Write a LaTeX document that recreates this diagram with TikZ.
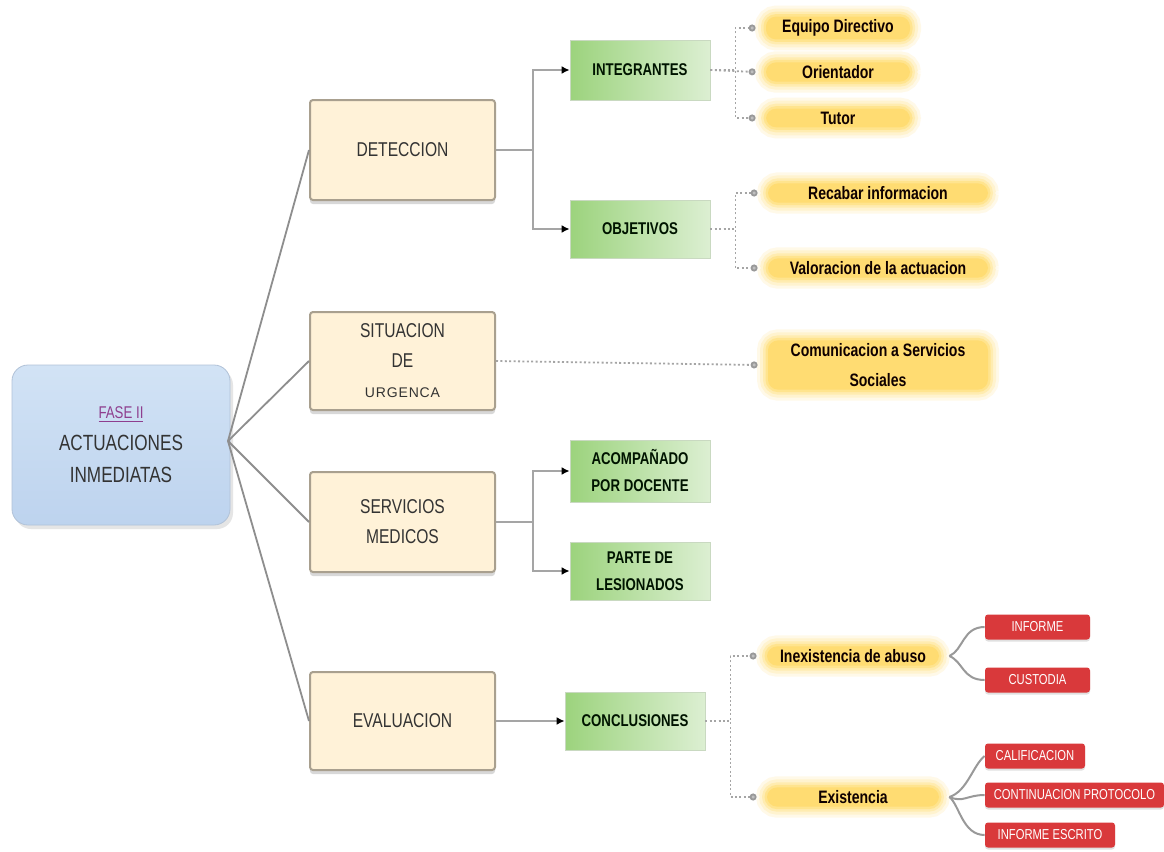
\documentclass[tikz,border=0pt]{standalone}
\usepackage{fontspec}
\setmainfont{Liberation Sans}
\newfontfamily\narrow[FakeStretch=0.78]{Liberation Sans}
\usetikzlibrary{arrows.meta,shadows,calc}
\definecolor{cream}{HTML}{FFF2D8}
\definecolor{creamline}{HTML}{A9A08F}
\definecolor{greenL}{HTML}{9CD37D}
\definecolor{greenR}{HTML}{DCEFD2}
\definecolor{yelcore}{HTML}{FFDC72}
\definecolor{yelA}{HTML}{FFE48E}
\definecolor{yelB}{HTML}{FFECB0}
\definecolor{yelC}{HTML}{FFF3CF}
\definecolor{yelD}{HTML}{FFF9E8}
\definecolor{redbox}{HTML}{D9393B}
\definecolor{blueT}{HTML}{D2E3F5}
\definecolor{blueB}{HTML}{BDD3EE}
\definecolor{fasecol}{HTML}{8E3E8E}
\definecolor{txt}{HTML}{333333}
\definecolor{conn}{HTML}{8E8E8E}
\tikzset{
  fasebox/.style={rectangle, rounded corners=8pt, top color=blueT, bottom color=blueB,
    draw=blueB!80!gray, line width=0.4pt, minimum width=109pt, minimum height=80pt,
    align=center, text=txt, font=\narrow\fontsize{11}{16}\selectfont,
    drop shadow={shadow xshift=1.5pt, shadow yshift=-2pt, fill=black!20, opacity=0.5}},
  mainbox/.style={rectangle, rounded corners=1.5pt, fill=cream, draw=creamline, line width=1pt,
    minimum width=92.5pt, minimum height=50pt, align=center, text=txt,
    font=\narrow\fontsize{10}{15}\selectfont,
    drop shadow={shadow xshift=0pt, shadow yshift=-2pt, fill=black!30, opacity=0.5}},
  greenbox/.style={rectangle, left color=greenL, right color=greenR, draw=greenR!80!gray,
    line width=0.4pt, minimum width=70pt, minimum height=30pt, align=center,
    text=black!80!green!40!black, font=\narrow\bfseries\fontsize{8.5}{13.5}\selectfont},
  glow/.style={rectangle, rounded corners=5pt, fill=yelcore, inner sep=1.5pt,
    preaction={draw=yelD, line width=11pt}, preaction={draw=yelC, line width=8pt},
    preaction={draw=yelB, line width=5pt}, preaction={draw=yelA, line width=2.5pt},
    minimum height=8pt, align=center, text=black!90!red!60!black,
    font=\narrow\bfseries\fontsize{9}{15}\selectfont},
  redlbl/.style={rectangle, rounded corners=1.5pt, fill=redbox, text=white,
    minimum height=12.5pt, inner sep=1pt, font=\narrow\fontsize{7.2}{8}\selectfont,
    drop shadow={shadow xshift=0pt, shadow yshift=-1pt, fill=black!30, opacity=0.4}},
  spoke/.style={draw=conn, line width=0.9pt},
  elbow/.style={draw=conn!80, line width=1.3pt, -{Latex[black,length=4pt,width=4pt]}},
  dotline/.style={draw=conn!80, line width=0.9pt, dash pattern=on 1pt off 1.2pt, -{Circle[length=3.5pt,fill=black!25,color=black!40]}},
  curve/.style={draw=conn!90, line width=1pt}
}
\begin{document}
\begin{tikzpicture}[x=0.5pt,y=-0.5pt]
\fill[white] (0,0) rectangle (1164,852);
\useasboundingbox (0,0) rectangle (1164,852);

% root
\node[fasebox] (fase) at (121,445)
  {{\fontsize{8.5}{16}\selectfont\textcolor{fasecol}{\underline{FASE II}}}\\ACTUACIONES\\INMEDIATAS};
\coordinate (hub) at (228,441);

% main boxes
\node[mainbox] (det) at (402.5,150) {DETECCION};
\node[mainbox, minimum height=49pt] (sit) at (402.5,361)
  {SITUACION\\DE\\{\fontspec{Liberation Sans}\fontsize{7}{10}\selectfont\addfontfeatures{LetterSpace=6}URGENCA}};
\node[mainbox] (ser) at (402.5,522) {SERVICIOS\\MEDICOS};
\node[mainbox, minimum height=49pt] (eva) at (402.5,721) {EVALUACION};

\draw[spoke] (hub) -- (det.west);
\draw[spoke] (hub) -- (sit.west);
\draw[spoke] (hub) -- (ser.west);
\draw[spoke] (hub) -- (eva.west);
\draw[spoke] (fase.east |- hub) -- (hub);

% green boxes
\node[greenbox] (int) at (640,70) {INTEGRANTES};
\node[greenbox, minimum height=29pt] (obj) at (640,229) {OBJETIVOS};
\node[greenbox, minimum height=31pt] (aco) at (640,471) {ACOMPAÑADO\\POR DOCENTE};
\node[greenbox, minimum height=29pt] (par) at (640,571) {PARTE DE\\LESIONADOS};
\node[greenbox, minimum height=29pt] (con) at (635,721) {CONCLUSIONES};

\draw[elbow] (det.east) -- ++(37,0) |- (int.west);
\draw[elbow] (det.east) -- ++(37,0) |- (obj.west);
\draw[elbow] (ser.east) -- ++(37,0) |- (aco.west);
\draw[elbow] (ser.east) -- ++(37,0) |- (par.west);
\draw[elbow] (eva.east) -- (con.west);

% yellow labels
\node[glow, minimum width=72pt] (eq) at (838,28) {Equipo Directivo};
\node[glow, minimum width=72pt] (ori) at (838,72) {Orientador};
\node[glow, minimum width=72pt] (tut) at (838,118) {Tutor};
\node[glow, minimum width=110pt] (rec) at (878,193) {Recabar informacion};
\node[glow, minimum width=110pt] (val) at (878,268) {Valoracion de la actuacion};
\node[glow, minimum width=110pt] (com) at (878,365) {Comunicacion a Servicios\\Sociales};
\node[glow, minimum width=86pt] (ine) at (853,656) {Inexistencia de abuso};
\node[glow, minimum width=86pt] (exi) at (853,797) {Existencia};

\draw[dotline] (int.east) -- ++(25,0) |- ([xshift=-5pt]eq.west);
\draw[dotline] (int.east) -- ([xshift=-5pt]ori.west);
\draw[dotline] (int.east) -- ++(25,0) |- ([xshift=-5pt]tut.west);
\draw[dotline] (obj.east) -- ++(25,0) |- ([xshift=-5pt]rec.west);
\draw[dotline] (obj.east) -- ++(25,0) |- ([xshift=-5pt]val.west);
\draw[dotline] (sit.east) -- ([xshift=-5pt]com.west);
\draw[dotline] (con.east) -- ++(25,0) |- ([xshift=-5pt]ine.west);
\draw[dotline] (con.east) -- ++(25,0) |- ([xshift=-5pt]exi.west);

% red labels
\node[redlbl, minimum width=52.5pt] (inf) at (1037.5,627) {INFORME};
\node[redlbl, minimum width=52.5pt] (cus) at (1037.5,680) {CUSTODIA};
\node[redlbl, minimum width=50pt] (cal) at (1035,756) {CALIFICACION};
\node[redlbl, minimum width=89.5pt] (cont) at (1074.5,795) {CONTINUACION PROTOCOLO};
\node[redlbl, minimum width=65pt] (ies) at (1050,835) {INFORME ESCRITO};

\coordinate (ij) at ($(ine.east)+(5pt,0)$);
\coordinate (ej) at ($(exi.east)+(5pt,0)$);
\draw[curve] (ij) .. controls +(14,-6) and +(-22,0) .. (inf.west);
\draw[curve] (ij) .. controls +(14,6) and +(-22,0) .. (cus.west);
\draw[curve] (ej) .. controls +(18,-6) and +(-12,10) .. (cal.west);
\draw[curve] (ej) .. controls +(14,6) and +(-18,0) .. (cont.west);
\draw[curve] (ej) .. controls +(10,8) and +(-22,0) .. (ies.west);
\end{tikzpicture}
\end{document}
